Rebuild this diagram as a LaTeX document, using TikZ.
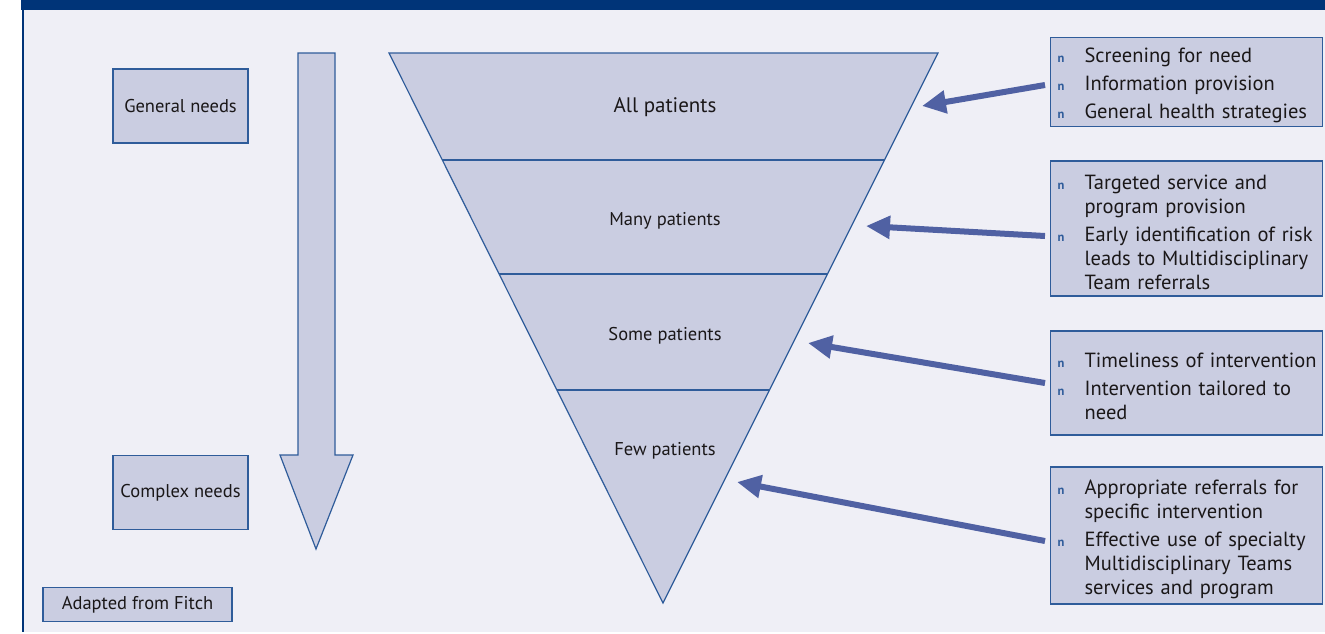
\documentclass[tikz,border=0pt]{standalone}
\usepackage{fontspec}
\setmainfont{PT Sans}
\usetikzlibrary{arrows.meta}
\definecolor{barc}{HTML}{003478}
\definecolor{bgc}{HTML}{EFEFF6}
\definecolor{fillc}{HTML}{CACDE1}
\definecolor{linec}{HTML}{2F5C9A}
\definecolor{arrc}{HTML}{5061A3}
\definecolor{txtc}{HTML}{1A1718}
\newcommand{\bl}{\hspace*{3pt}\makebox[27pt][l]{\fontsize{12.5}{12}\selectfont\bfseries\color{linec}n}}
\newcommand{\ind}{\hspace*{30pt}}
\newcommand{\tp}{\rule{0pt}{22pt}}

\begin{document}
\begin{tikzpicture}[x=1pt,y=-1pt]
\tikzset{box/.style = {draw=linec, line width=1.2pt, fill=fillc, text=txtc, font=\fontsize{18.5}{21}\selectfont}}
\tikzset{rbox/.style = {box, anchor=west, inner xsep=4pt, text width=264pt, align=left, font=\fontsize{20.5}{24}\selectfont}}
\tikzset{lvl/.style = {text=txtc, font=\fontsize{18.5}{21}\selectfont}}
\tikzset{edge/.style = {-{Triangle[length=24pt,width=22pt]}, line width=6pt, draw=arrc}}
% background and frame
\fill[white] (0,0) rectangle (1325,632);
\fill[bgc] (23,10) rectangle (1325,632);
\fill[barc] (21,0) rectangle (1325,10);
\draw[barc, line width=2pt] (23,10) -- (23,632);

% down arrow
\draw[linec, line width=1.2pt, fill=fillc] (298,53) -- (335,53) -- (335,455) -- (353,455)
  -- (316,549) -- (280,455) -- (298,455) -- cycle;

% funnel
\draw[linec, line width=1.2pt, fill=fillc] (389,53) -- (938,53) -- (663,603) -- cycle;
\draw[linec, line width=1.2pt] (442.3,160) -- (884.5,160);
\draw[linec, line width=1.2pt] (499.1,274) -- (827.5,274);
\draw[linec, line width=1.2pt] (556.9,390) -- (769.5,390);

\node[lvl, font=\fontsize{21}{24}\selectfont] (a) at (665,107) {All patients};
\node[lvl] (b) at (665,221) {Many patients};
\node[lvl] (c) at (665,336) {Some patients};
\node[lvl] (d) at (665,451) {Few patients};

% left labels
\node[box, minimum width=135pt, minimum height=74pt] (gn) at (180.5,106) {General needs};
\node[box, minimum width=135pt, minimum height=74pt] (cn) at (180.5,492.5) {Complex needs};
\node[box, minimum width=189pt, minimum height=34pt] (fi) at (137.5,604.5) {Adapted from Fitch};

% right boxes
\node[rbox, minimum height=88pt] (r1) at (1050,82)
  {\tp\bl Screening for need\\[4pt] \bl Information provision\\[4pt] \bl General health strategies};
\node[rbox, minimum height=135pt] (r2) at (1050,228.5)
  {\tp\bl Targeted service and\\ \ind program provision\\[4pt] \bl Early identification of risk\\
   \ind leads to Multidisciplinary\\ \ind Team referrals};
\node[rbox, minimum height=104pt] (r3) at (1050,383)
  {\tp\bl Timeliness of intervention\\[4pt] \bl Intervention tailored to\\ \ind need};
\node[rbox, minimum height=137pt] (r4) at (1050,535.5)
  {\tp\bl Appropriate referrals for\\ \ind specific intervention\\[4pt] \bl Effective use of specialty\\
   \ind Multidisciplinary Teams\\ \ind services and program};

\coordinate (t1) at (922,106);
\coordinate (t2) at (866,226);
\coordinate (t3) at (808,343);
\coordinate (t4) at (737,482);
\draw[edge] ([xshift=-5pt,yshift=-3pt]r1.west) -- (t1);
\draw[edge] ([xshift=-5pt,yshift=-7.5pt]r2.west) -- (t2);
\draw[edge] ([xshift=-5pt]r3.west) -- (t3);
\draw[edge] ([xshift=-5pt,yshift=-5.5pt]r4.west) -- (t4);
\end{tikzpicture}
\end{document}
